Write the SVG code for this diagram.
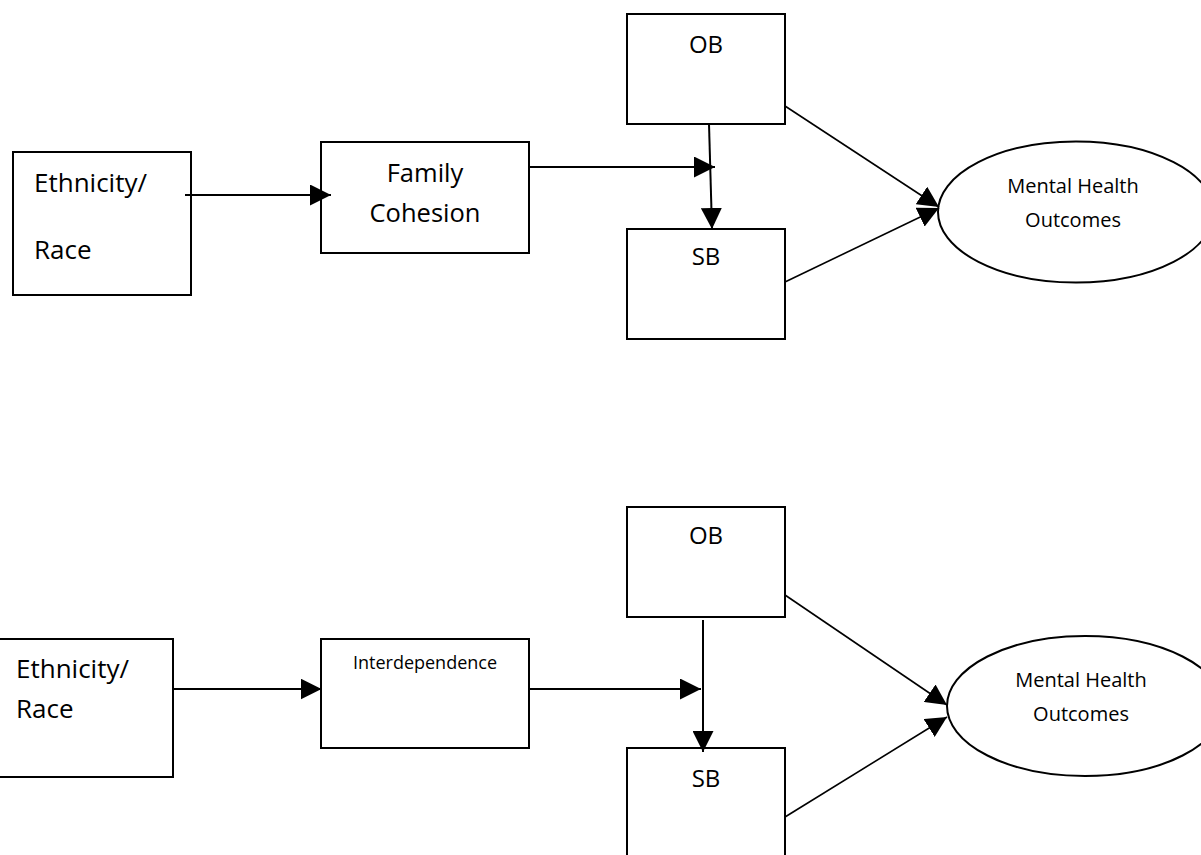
<svg xmlns="http://www.w3.org/2000/svg" width="1201" height="855" viewBox="0 0 1201 855">
<style>
.box{fill:#fff;stroke:#000;stroke-width:2}
.ell{fill:#fff;stroke:#000;stroke-width:2}
.t{font-family:"Open Sans","Liberation Sans",sans-serif;fill:#000}
.c{text-anchor:middle}
.ln{stroke:#000;stroke-width:2;fill:none}
.dg{stroke:#000;stroke-width:1.6;fill:none}
</style>
<defs>
<marker id="ah" markerUnits="userSpaceOnUse" markerWidth="21" markerHeight="21" refX="20" refY="10" orient="auto" viewBox="0 0 20 20">
<path d="M0,0 L20,10 L0,20 z" fill="#000"/>
</marker>
</defs>
<rect width="1201" height="855" fill="#fff"/>

<g id="top-ethnicity">
<rect class="box" x="13" y="152" width="178" height="143"/>
<text class="t" x="34" y="192" font-size="26">Ethnicity/</text>
<text class="t" x="34" y="259" font-size="26">Race</text>
</g>
<g id="top-family">
<rect class="box" x="321" y="142" width="208" height="111"/>
<text class="t c" x="425" y="182" font-size="25.5">Family</text>
<text class="t c" x="425" y="222" font-size="25.5">Cohesion</text>
</g>
<g id="top-ob">
<rect class="box" x="627" y="14" width="158" height="110"/>
<text class="t c" x="706" y="53" font-size="24">OB</text>
</g>
<g id="top-sb">
<rect class="box" x="627" y="229" width="158" height="110"/>
<text class="t c" x="706" y="265" font-size="24">SB</text>
</g>
<g id="top-mho">
<ellipse class="ell" cx="1076" cy="212" rx="138" ry="70.5"/>
<text class="t c" x="1073" y="193" font-size="20">Mental Health</text>
<text class="t c" x="1073" y="227" font-size="20">Outcomes</text>
</g>

<g id="bottom-ethnicity">
<rect class="box" x="-3" y="639" width="176" height="138"/>
<text class="t" x="16" y="678" font-size="26">Ethnicity/</text>
<text class="t" x="16" y="718" font-size="26">Race</text>
</g>
<g id="bottom-interdependence">
<rect class="box" x="321" y="639" width="208" height="109"/>
<text class="t c" x="425" y="669" font-size="18">Interdependence</text>
</g>
<g id="bottom-ob">
<rect class="box" x="627" y="507" width="158" height="110"/>
<text class="t c" x="706" y="544" font-size="24">OB</text>
</g>
<g id="bottom-sb">
<rect class="box" x="627" y="748" width="158" height="120"/>
<text class="t c" x="706" y="787" font-size="24">SB</text>
</g>
<g id="bottom-mho">
<ellipse class="ell" cx="1085" cy="706" rx="138" ry="70"/>
<text class="t c" x="1081" y="687" font-size="20">Mental Health</text>
<text class="t c" x="1081" y="721" font-size="20">Outcomes</text>
</g>

<g id="connectors">
<line class="ln" x1="185" y1="195" x2="331" y2="195" marker-end="url(#ah)"/>
<line class="ln" x1="529" y1="167" x2="715" y2="167" marker-end="url(#ah)"/>
<line class="ln" x1="709" y1="124" x2="712" y2="229" marker-end="url(#ah)"/>
<line class="dg" x1="785" y1="106" x2="939" y2="207" marker-end="url(#ah)"/>
<line class="dg" x1="785" y1="282" x2="939" y2="208" marker-end="url(#ah)"/>

<line class="ln" x1="174" y1="689" x2="321.5" y2="689" marker-end="url(#ah)"/>
<line class="ln" x1="529" y1="689" x2="701" y2="689" marker-end="url(#ah)"/>
<line class="ln" x1="703" y1="620" x2="703" y2="752" marker-end="url(#ah)"/>
<line class="dg" x1="785" y1="595" x2="947" y2="705" marker-end="url(#ah)"/>
<line class="dg" x1="785" y1="817" x2="947" y2="717" marker-end="url(#ah)"/>
</g>
</svg>
